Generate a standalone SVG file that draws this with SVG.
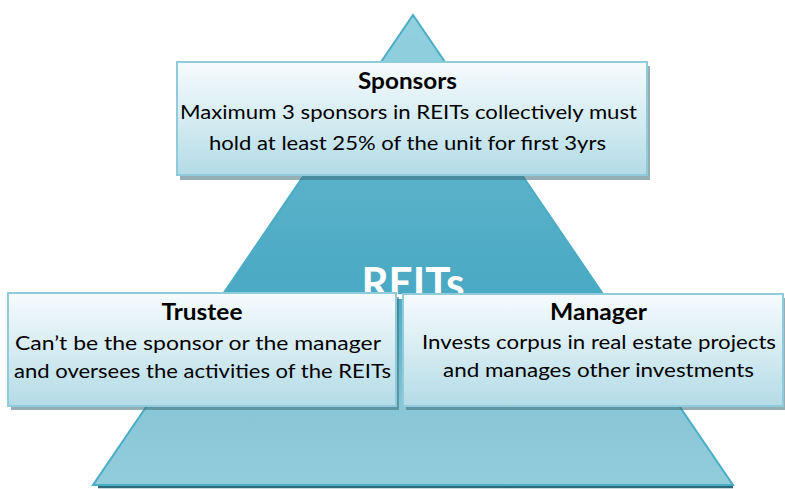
<svg xmlns="http://www.w3.org/2000/svg" width="785" height="489" viewBox="0 0 785 489">
  <defs>
    <linearGradient id="pyramidFill" x1="0" y1="15" x2="0" y2="485" gradientUnits="userSpaceOnUse">
      <stop offset="0" stop-color="#93d1df"/>
      <stop offset="0.12" stop-color="#8ccedc"/>
      <stop offset="0.34" stop-color="#5ab2c9"/>
      <stop offset="0.58" stop-color="#4aa9c4"/>
      <stop offset="0.84" stop-color="#88c7d7"/>
      <stop offset="1" stop-color="#92ccdb"/>
    </linearGradient>
    <linearGradient id="boxFill" x1="0" y1="0" x2="0" y2="1">
      <stop offset="0" stop-color="#f6fbfd"/>
      <stop offset="0.5" stop-color="#d6ecf2"/>
      <stop offset="1" stop-color="#b3dbe6"/>
    </linearGradient>
  </defs>
  <style>
    .shadow { fill: #3d6e7a; opacity: 0.55; }
    .box { fill: url(#boxFill); stroke: #8fcbdb; stroke-width: 2; }
    .title { font-family: Lato, "Open Sans", sans-serif; font-weight: bold; font-size: 22px; fill: #000; text-anchor: middle; }
    .body { font-family: Lato, "Open Sans", sans-serif; font-size: 19.5px; fill: #000; text-anchor: middle; }
    .center { font-family: Lato, "Open Sans", sans-serif; font-weight: bold; font-size: 44px; fill: #fff; text-anchor: middle; }
  </style>

  <!-- pyramid -->
  <g id="pyramid">
    <line x1="98" y1="487" x2="733" y2="487" stroke="#2b6a7a" stroke-width="2.5"/>
    <polygon points="413,15 93,485 733,485" fill="url(#pyramidFill)" stroke="#4bacc6" stroke-width="2" stroke-linejoin="miter"/>
    <text class="center" x="413" y="299" textLength="103" lengthAdjust="spacingAndGlyphs">REITs</text>
  </g>

  <g id="connectors"/>

  <!-- Sponsors -->
  <g id="sponsors">
    <rect class="shadow" x="180" y="66" width="470" height="114"/>
    <rect class="box" x="177" y="62" width="470" height="113"/>
    <text class="title" x="407.5" y="89" textLength="99" lengthAdjust="spacingAndGlyphs">Sponsors</text>
    <text class="body" x="408.5" y="119" textLength="457" lengthAdjust="spacingAndGlyphs">Maximum 3 sponsors in REITs collectively must</text>
    <text class="body" x="407.5" y="150" textLength="397" lengthAdjust="spacingAndGlyphs">hold at least 25% of the unit for first 3yrs</text>
  </g>

  <!-- Trustee -->
  <g id="trustee">
    <rect class="shadow" x="11" y="297" width="388" height="113"/>
    <rect class="box" x="8" y="293" width="388" height="113"/>
    <text class="title" x="202" y="320" textLength="81" lengthAdjust="spacingAndGlyphs">Trustee</text>
    <text class="body" x="198" y="350" textLength="366" lengthAdjust="spacingAndGlyphs">Can’t be the sponsor or the manager</text>
    <text class="body" x="202.5" y="378" textLength="377" lengthAdjust="spacingAndGlyphs">and oversees the activities of the REITs</text>
  </g>

  <!-- Manager -->
  <g id="manager">
    <rect class="shadow" x="406" y="298" width="382" height="112"/>
    <rect class="box" x="403" y="294" width="380" height="112"/>
    <text class="title" x="598.5" y="320" textLength="97" lengthAdjust="spacingAndGlyphs">Manager</text>
    <text class="body" x="599" y="349" textLength="354" lengthAdjust="spacingAndGlyphs">Invests corpus in real estate projects</text>
    <text class="body" x="598.5" y="377" textLength="311" lengthAdjust="spacingAndGlyphs">and manages other investments</text>
  </g>
</svg>
